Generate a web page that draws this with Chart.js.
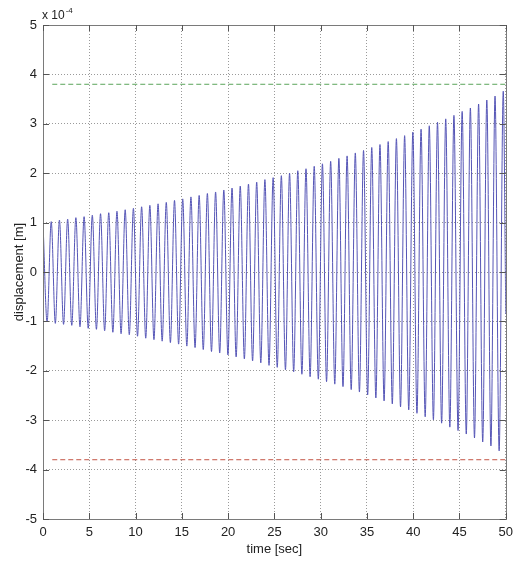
<!DOCTYPE html>
<html>
<head>
<meta charset="utf-8">
<script src="https://cdn.jsdelivr.net/npm/chart.js@4.4.1/dist/chart.umd.min.js"></script>
<style>
  html, body { margin: 0; padding: 0; background: #fff; }
  #wrap { width: 519px; height: 561px; }
</style>
</head>
<body>
<div id="wrap"><canvas id="chart"></canvas></div>
<script>
// displacement values are in units of 1e-4 m (see the "x 10^-4" label)
const halfPeriod = 0.444; // sec from one peak to the next trough

const peakValues = [
  1.00, 1.02, 1.05, 1.07, 1.10, 1.12, 1.15, 1.18, 1.20, 1.23,
  1.26, 1.29, 1.32, 1.35, 1.38, 1.41, 1.45, 1.48, 1.52, 1.55,
  1.59, 1.62, 1.66, 1.70, 1.74, 1.78, 1.82, 1.87, 1.91, 1.95,
  2.00, 2.05, 2.09, 2.14, 2.19, 2.24, 2.30, 2.35, 2.41, 2.46,
  2.52, 2.58, 2.64, 2.70, 2.76, 2.83, 2.89, 2.96, 3.03, 3.10,
  3.17, 3.25, 3.32, 3.40, 3.48, 3.56, 3.66
];
const troughValues = [
  -1.01, -1.04, -1.06, -1.08, -1.11, -1.14, -1.16, -1.19, -1.22, -1.25,
  -1.27, -1.30, -1.34, -1.37, -1.40, -1.43, -1.46, -1.50, -1.53, -1.57,
  -1.61, -1.64, -1.68, -1.72, -1.76, -1.80, -1.84, -1.89, -1.93, -1.98,
  -2.02, -2.07, -2.12, -2.17, -2.22, -2.27, -2.32, -2.38, -2.43, -2.49,
  -2.55, -2.61, -2.67, -2.73, -2.79, -2.86, -2.93, -2.99, -3.06, -3.14,
  -3.21, -3.28, -3.36, -3.44, -3.52, -3.62
];
const endValue = -0.85; // value at t = 50

const upperLimit = 3.8;
const lowerLimit = -3.8;
const limitTimes = [1, 50];

const xTicks = [0, 5, 10, 15, 20, 25, 30, 35, 40, 45, 50];
const yTicks = [-5, -4, -3, -2, -1, 0, 1, 2, 3, 4, 5];

let signal = [];
for (let i = 0; i < peakValues.length; i++) {
  signal.push({ x: +(2 * i * halfPeriod).toFixed(3), y: peakValues[i] });
  if (i < troughValues.length) {
    signal.push({ x: +((2 * i + 1) * halfPeriod).toFixed(3), y: troughValues[i] });
  }
}
signal.push({ x: 50, y: endValue });

const family = "'Liberation Sans', Arial, sans-serif";
const font = { family: family, size: 13 };
const textColor = "#222";
const gridColor = "rgba(120,120,120,0.75)";

const framePlugin = {
  id: "frame",
  afterDraw(chart) {
    const ctx = chart.ctx;
    const a = chart.chartArea;
    const xs = chart.scales.x;
    const ys = chart.scales.y;
    ctx.save();
    ctx.strokeStyle = "#7a7a7a";
    ctx.lineWidth = 1;
    ctx.strokeRect(Math.round(a.left) + 0.5, Math.round(a.top) + 0.5,
      Math.round(a.right - a.left), Math.round(a.bottom - a.top));
    ctx.strokeStyle = "#555";
    ctx.beginPath();
    xTicks.forEach(function (t) {
      let px = Math.round(xs.getPixelForValue(t)) + 0.5;
      ctx.moveTo(px, a.bottom);
      ctx.lineTo(px, a.bottom - 6);
      ctx.moveTo(px, a.top);
      ctx.lineTo(px, a.top + 6);
    });
    yTicks.forEach(function (t) {
      let py = Math.round(ys.getPixelForValue(t)) + 0.5;
      ctx.moveTo(a.left, py);
      ctx.lineTo(a.left + 6, py);
      ctx.moveTo(a.right, py);
      ctx.lineTo(a.right - 6, py);
    });
    ctx.stroke();

    // exponent label
    ctx.fillStyle = textColor;
    ctx.textBaseline = "alphabetic";
    ctx.textAlign = "left";
    ctx.font = "12px " + family;
    ctx.fillText("x 10", a.left - 1, a.top - 6);
    let w = ctx.measureText("x 10").width;
    ctx.font = "8px " + family;
    ctx.fillText("-4", a.left - 1 + w + 1, a.top - 12);
    ctx.restore();
  }
};

const ctx = document.getElementById("chart").getContext("2d");

const chart = new Chart(ctx, {
  type: "line",
  data: {
    datasets: [
      {
        label: "displacement",
        data: signal,
        borderColor: "rgb(85,85,182)",
        borderWidth: 1,
        pointRadius: 0,
        cubicInterpolationMode: "monotone",
        fill: false,
      },
      {
        label: "upper",
        data: limitTimes.map(function (t) { return { x: t, y: upperLimit }; }),
        borderColor: "rgb(90,165,90)",
        borderWidth: 1,
        borderDash: [5, 3],
        pointRadius: 0,
        fill: false,
      },
      {
        label: "lower",
        data: limitTimes.map(function (t) { return { x: t, y: lowerLimit }; }),
        borderColor: "rgb(195,85,70)",
        borderWidth: 1,
        borderDash: [5, 3],
        pointRadius: 0,
        fill: false,
      },
    ],
  },
  options: {
    responsive: true,
    maintainAspectRatio: false,
    animation: false,
    devicePixelRatio: 1,
    layout: { padding: { top: 25, right: 0, left: 0, bottom: 0 } },
    plugins: {
      legend: { display: false },
      tooltip: { enabled: false },
    },
    scales: {
      x: {
        type: "linear",
        min: 0,
        max: 50,
        afterBuildTicks: function (s) {
          s.ticks = xTicks.map(function (v) { return { value: v }; });
        },
        afterFit: function (s) { s.height = 42; },
        ticks: { font: font, color: textColor, padding: 6, maxRotation: 0, autoSkip: false },
        grid: { color: gridColor, drawTicks: false },
        border: { display: false, dash: [1, 2] },
        title: {
          display: true,
          text: "time [sec]",
          font: font,
          color: textColor,
          padding: { top: 0, bottom: 4 },
        },
      },
      y: {
        type: "linear",
        min: -5,
        max: 5,
        afterBuildTicks: function (s) {
          s.ticks = yTicks.map(function (v) { return { value: v }; });
        },
        afterFit: function (s) { s.width = 43; },
        ticks: { font: font, color: textColor, padding: 6, autoSkip: false },
        grid: { color: gridColor, drawTicks: false },
        border: { display: false, dash: [1, 2] },
        title: {
          display: true,
          text: "displacement [m]",
          font: font,
          color: textColor,
          padding: { top: 12, bottom: 0 },
        },
      },
    },
  },
  plugins: [framePlugin],
});
</script>
</body>
</html>
